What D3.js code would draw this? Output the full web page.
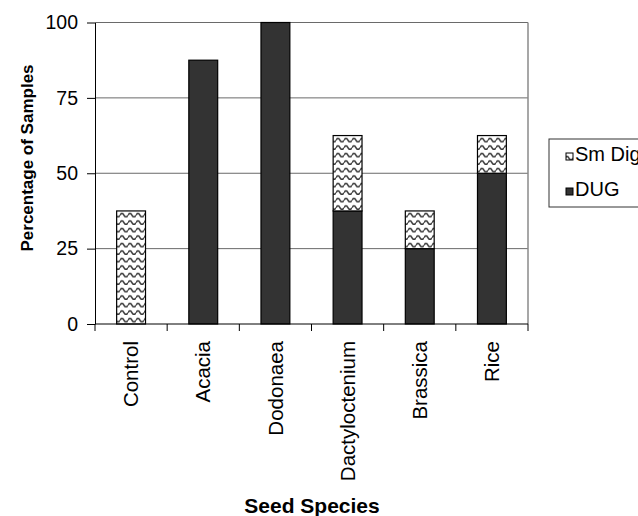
<!doctype html>
<html>
<head>
<meta charset="utf-8">
<style>
    body { margin: 0; background: #fff; }
    text { font-family: Arial, "Liberation Sans", sans-serif; }
</style>
<script src="https://d3js.org/d3.v7.min.js"></script>
</head>
<body>
<svg width="638" height="516" class="chart"></svg>
<script>
// data
var species = ["Control", "Acacia", "Dodonaea", "Dactyloctenium", "Brassica", "Rice"];
var dug   = [0, 87.5, 100, 37.5, 25, 50];
var smDig = [37.5, 0, 0, 25, 12.5, 12.5];
var yTicks = [0, 25, 50, 75, 100];
var seriesNames = ["Sm Dig", "DUG"];

var svg = d3.select(".chart");

var plotL = 95, plotR = 528, plotT = 22.5, plotB = 324;

var x = d3.scaleBand().domain(species).range([plotL, plotR])
          .paddingInner(0.6).paddingOuter(0.3);
var y = d3.scaleLinear().domain([0, 100]).range([plotB, plotT]);

// wavy hatch pattern for "Sm Dig"
var defs = svg.append("defs");
var pat = defs.append("pattern")
    .attr("id", "wave")
    .attr("patternUnits", "userSpaceOnUse")
    .attr("width", 8).attr("height", 7.5);
pat.append("rect").attr("width", 8).attr("height", 7.5).attr("fill", "#fff");
pat.append("path")
    .attr("d", "M0,5.2 Q2,1.6 4,5.2 T8,5.2")
    .attr("fill", "none")
    .attr("stroke", "#3a3a3a")
    .attr("stroke-width", 1.6);

// gridlines
svg.append("g").selectAll("line")
    .data(yTicks.filter(function(d) { return d > 0; }))
    .enter().append("line")
    .attr("x1", plotL).attr("x2", plotR)
    .attr("y1", function(d) { return y(d); })
    .attr("y2", function(d) { return y(d); })
    .attr("stroke", "#6a6a6a").attr("stroke-width", 1);

// right border of plot area
svg.append("line")
    .attr("x1", plotR).attr("x2", plotR)
    .attr("y1", plotT).attr("y2", plotB)
    .attr("stroke", "#8a8a8a").attr("stroke-width", 1.5);

// stacked bars
var rows = species.map(function(s, i) { return { name: s, "DUG": dug[i], "Sm Dig": smDig[i] }; });
var stack = d3.stack().keys(["DUG", "Sm Dig"])(rows);
var fills = { "DUG": "#333333", "Sm Dig": "url(#wave)" };

svg.append("g").selectAll("g")
    .data(stack)
    .enter().append("g")
    .attr("fill", function(d) { return fills[d.key]; })
    .selectAll("rect")
    .data(function(d) { return d.filter(function(p) { return p[1] - p[0] > 0; }); })
    .enter().append("rect")
    .attr("x", function(d) { return x(d.data.name); })
    .attr("width", x.bandwidth())
    .attr("y", function(d) { return y(d[1]); })
    .attr("height", function(d) { return y(d[0]) - y(d[1]); })
    .attr("stroke", "#000")
    .attr("stroke-width", 1.2);

// y axis
var yAxis = svg.append("g")
    .attr("transform", "translate(" + plotL + ",0)")
    .call(d3.axisLeft(y).tickValues(yTicks).tickSize(8).tickPadding(9).tickSizeOuter(0));
yAxis.select(".domain").attr("stroke", "#000");
yAxis.selectAll("text").attr("font-size", "19.5px").attr("fill", "#000")
    .attr("font-family", "Arial, 'Liberation Sans', sans-serif");

// x axis line + ticks between categories
svg.append("line")
    .attr("x1", plotL).attr("x2", plotR)
    .attr("y1", plotB).attr("y2", plotB)
    .attr("stroke", "#000");
svg.append("g").selectAll("line")
    .data(d3.range(species.length + 1))
    .enter().append("line")
    .attr("x1", function(i) { return plotL + i * x.step(); })
    .attr("x2", function(i) { return plotL + i * x.step(); })
    .attr("y1", plotB).attr("y2", plotB + 7)
    .attr("stroke", "#000");

// category labels
svg.append("g").selectAll("text")
    .data(species)
    .enter().append("text")
    .attr("transform", function(d) {
        return "translate(" + (x(d) + x.bandwidth() / 2) + ",341) rotate(-90)";
    })
    .attr("dy", "0.35em")
    .attr("text-anchor", "end")
    .attr("font-size", "20.5px")
    .text(function(d) { return d; });

// axis titles
svg.append("text")
    .attr("transform", "translate(33,158) rotate(-90)")
    .attr("text-anchor", "middle")
    .attr("font-size", "17px")
    .attr("font-weight", "bold")
    .text("Percentage of Samples");

svg.append("text")
    .attr("x", 312)
    .attr("y", 513)
    .attr("text-anchor", "middle")
    .attr("font-size", "21px")
    .attr("font-weight", "bold")
    .text("Seed Species");

// legend
var lg = svg.append("g").attr("transform", "translate(549,139)");
lg.append("rect")
    .attr("width", 120).attr("height", 68)
    .attr("fill", "#fff").attr("stroke", "#333").attr("stroke-width", 1);
var items = lg.selectAll(".item")
    .data(seriesNames)
    .enter().append("g")
    .attr("class", "item")
    .attr("transform", function(d, i) { return "translate(0," + (14 + i * 35) + ")"; });
items.append("rect")
    .attr("x", 17).attr("width", 7).attr("height", 7)
    .attr("fill", function(d) { return fills[d]; })
    .attr("stroke", "#000");
items.append("text")
    .attr("x", 26).attr("y", 8)
    .attr("font-size", "20px")
    .text(function(d) { return d; });
</script>
</body>
</html>
